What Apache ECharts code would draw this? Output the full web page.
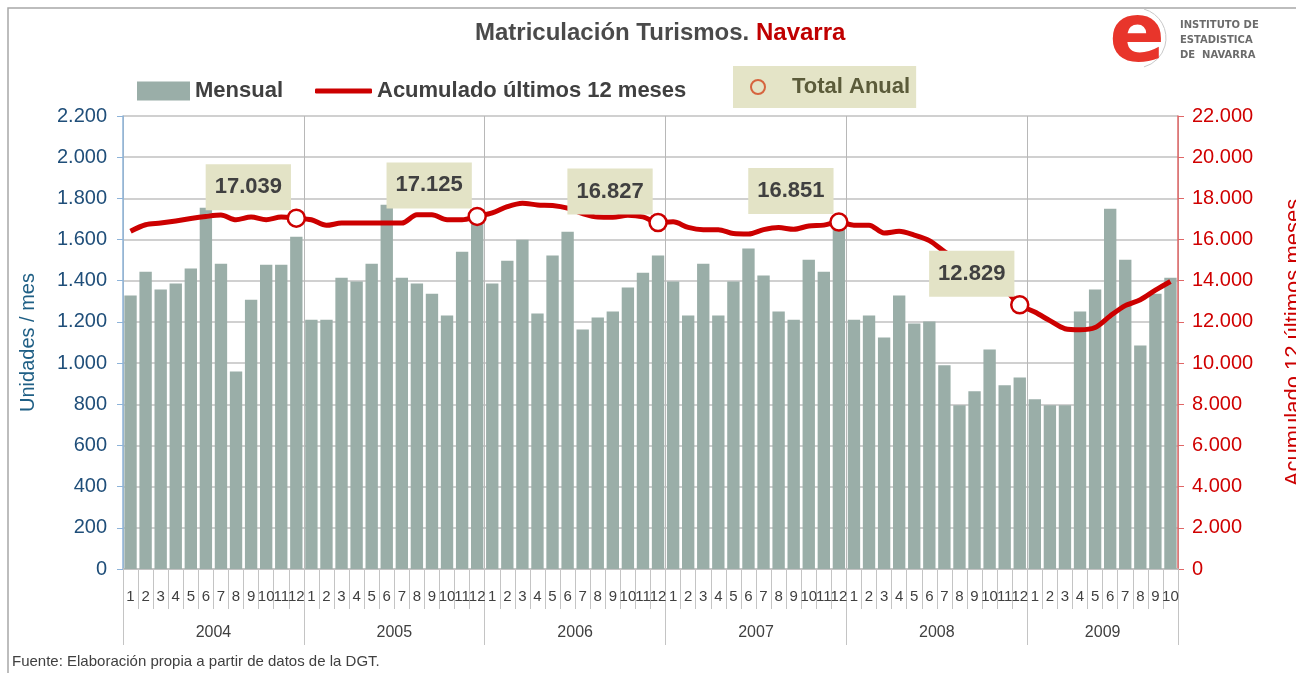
<!DOCTYPE html>
<html>
<head>
<meta charset="utf-8">
<title>Matriculación Turismos. Navarra</title>
<script src="https://cdn.jsdelivr.net/npm/echarts@6/dist/echarts.min.js"></script>
<style>
  html, body { margin: 0; padding: 0; background: #fff; }
  #chart { width: 1296px; height: 673px; }
</style>
</head>
<body>
<div id="chart"></div>
<script>
// eje X: años y meses
const years = ['2004', '2005', '2006', '2007', '2008', '2009'];
const monthsPerYear = [12, 12, 12, 12, 12, 10];
const monthNames = ['1', '2', '3', '4', '5', '6', '7', '8', '9', '10', '11', '12'];

// matriculaciones mensuales (unidades / mes)
const mensual2004 = [1328, 1444, 1357, 1386, 1459, 1754, 1483, 959, 1308, 1478, 1478, 1614];
const mensual2005 = [1211, 1211, 1415, 1396, 1483, 1769, 1415, 1386, 1337, 1231, 1541, 1730];
const mensual2006 = [1386, 1497, 1599, 1241, 1522, 1638, 1163, 1221, 1250, 1367, 1439, 1522];
const mensual2007 = [1396, 1231, 1483, 1231, 1396, 1556, 1425, 1250, 1211, 1502, 1444, 1700];
const mensual2008 = [1211, 1231, 1124, 1328, 1192, 1202, 989, 795, 863, 1066, 892, 930];
const mensual2009 = [824, 795, 795, 1250, 1357, 1750, 1502, 1085, 1337, 1415];

// acumulado últimos 12 meses
const acum2004 = [16400, 16720, 16800, 16900, 17020, 17120, 17190, 16960, 17090, 16960, 17090, 17039];
const acum2005 = [16960, 16690, 16800, 16800, 16800, 16800, 16800, 17200, 17200, 16960, 16960, 17125];
const acum2006 = [17290, 17600, 17768, 17680, 17655, 17525, 17260, 17090, 17080, 17180, 17100, 16827];
const acum2007 = [16860, 16590, 16480, 16480, 16290, 16270, 16480, 16580, 16500, 16660, 16700, 16851];
const acum2008 = [16700, 16700, 16315, 16400, 16220, 15950, 15420, 14950, 14600, 14150, 13600, 12829];
const acum2009 = [12480, 12060, 11670, 11620, 11730, 12290, 12790, 13080, 13540, 13960];

// total anual (diciembre de cada año)
const totalAnual = [17039, 17125, 16827, 16851, 12829];

const categories = years.flatMap((y, i) => monthNames.slice(0, monthsPerYear[i]));
const mensual = [].concat(mensual2004, mensual2005, mensual2006, mensual2007, mensual2008, mensual2009);
const acumulado = [].concat(acum2004, acum2005, acum2006, acum2007, acum2008, acum2009);

// posiciones de cambio de año en el eje y puntos del total anual
const yearBounds = [0];
monthsPerYear.forEach(n => yearBounds.push(yearBounds[yearBounds.length - 1] + n));
const yearMids = years.map((y, i) => (yearBounds[i] + yearBounds[i + 1]) / 2);
const totalData = categories.map(() => '-');
totalAnual.forEach((v, i) => { totalData[yearBounds[i + 1] - 1] = v; });

function fmt(n) {
  return String(n).replace(/\B(?=(\d{3})+(?!\d))/g, '.');
}

const FONT = '"Liberation Sans", Arial, sans-serif';
const legendText = { fontSize: 22, fontWeight: 'bold', color: '#404040', fontFamily: FONT };

const chart = echarts.init(document.getElementById('chart'));
const option = {
  animation: false,
  textStyle: { fontFamily: FONT },
  title: {
    left: 470,
    top: 16,
    text: '{a|Matriculación Turismos. }{b|Navarra}',
    textStyle: {
      rich: {
        a: { fontSize: 24, fontWeight: 'bold', color: '#4a4a4a', fontFamily: FONT },
        b: { fontSize: 24, fontWeight: 'bold', color: '#c00000', fontFamily: FONT }
      }
    }
  },
  legend: [
    {
      left: 137,
      top: 80,
      padding: 0,
      itemWidth: 53,
      itemHeight: 19,
      data: [{ name: 'Mensual', icon: 'rect' }],
      textStyle: legendText
    },
    {
      left: 315,
      top: 80,
      padding: 0,
      itemWidth: 57,
      itemHeight: 5,
      data: [{ name: 'Acumulado últimos 12 meses', icon: 'roundRect', itemStyle: { color: '#cc0000' } }],
      textStyle: legendText
    },
    {
      left: 733,
      top: 66,
      backgroundColor: '#e4e4c7',
      padding: [10, 6, 10, 17],
      itemWidth: 14,
      itemHeight: 14,
      data: [{
        name: 'Total Anual',
        icon: 'circle',
        itemStyle: { color: 'transparent', borderColor: '#d6643e', borderWidth: 2 }
      }],
      textStyle: { fontSize: 22, fontWeight: 'bold', color: '#5b5b3a', fontFamily: FONT, padding: [0, 0, 0, 22] }
    }
  ],
  grid: { left: 123, right: 118, top: 116, bottom: 104, outerBoundsMode: 'none' },
  xAxis: [
    {
      type: 'category',
      data: categories,
      boundaryGap: true,
      axisLine: { show: true, lineStyle: { color: '#bfbfbf', width: 1.5 } },
      axisTick: { show: true, interval: 0, length: 40, lineStyle: { color: '#c4c4c4' } },
      axisLabel: { interval: 0, fontSize: 15, color: '#404040', margin: 20, fontFamily: FONT },
      splitLine: { show: false }
    },
    {
      type: 'value',
      position: 'bottom',
      min: 0,
      max: categories.length,
      interval: 12,
      axisLine: { show: false },
      axisTick: { show: true, customValues: yearBounds, length: 76, lineStyle: { color: '#c4c4c4' } },
      axisLabel: {
        customValues: yearMids,
        fontSize: 16,
        color: '#404040',
        margin: 56,
        fontFamily: FONT,
        formatter: v => years[yearMids.indexOf(v)]
      },
      splitLine: { show: true, lineStyle: { color: '#b8b8b8', width: 1 } }
    }
  ],
  yAxis: [
    {
      type: 'value',
      min: 0,
      max: 2200,
      interval: 200,
      name: 'Unidades / mes',
      nameLocation: 'middle',
      nameGap: 85,
      nameRotate: 90,
      nameTextStyle: { fontSize: 20, color: '#1f5f85', fontFamily: FONT },
      axisLine: { show: true, lineStyle: { color: '#8db3d9', width: 1.5 } },
      axisTick: { show: true, length: 6, lineStyle: { color: '#8db3d9' } },
      axisLabel: { fontSize: 20, color: '#1f4e79', margin: 16, formatter: fmt, fontFamily: FONT },
      splitLine: { show: true, lineStyle: { color: '#c0c0c0', width: 1.5 } }
    },
    {
      type: 'value',
      position: 'right',
      min: 0,
      max: 22000,
      interval: 2000,
      name: 'Acumulado 12 últimos meses',
      nameLocation: 'middle',
      nameGap: 105,
      nameRotate: 90,
      nameTextStyle: { fontSize: 22, color: '#cc0000', fontFamily: FONT },
      axisLine: { show: true, lineStyle: { color: '#e06666', width: 1.5 } },
      axisTick: { show: true, length: 6, lineStyle: { color: '#e06666' } },
      axisLabel: { fontSize: 20, color: '#d00000', margin: 14, formatter: fmt, fontFamily: FONT },
      splitLine: { show: false }
    }
  ],
  series: [
    {
      name: 'Mensual',
      type: 'bar',
      xAxisIndex: 0,
      yAxisIndex: 0,
      data: mensual,
      barCategoryGap: '18%',
      itemStyle: { color: '#9aaea8' }
    },
    {
      name: 'Acumulado últimos 12 meses',
      type: 'line',
      xAxisIndex: 0,
      yAxisIndex: 1,
      data: acumulado,
      symbol: 'none',
      smooth: 0.3,
      lineStyle: { color: '#cc0000', width: 5 },
      itemStyle: { color: '#cc0000' },
      z: 3
    },
    {
      name: 'Total Anual',
      type: 'scatter',
      xAxisIndex: 0,
      yAxisIndex: 1,
      data: totalData,
      symbolSize: 17,
      itemStyle: { color: '#ffffff', borderColor: '#cc0000', borderWidth: 2.5, opacity: 1 },
      z: 4,
      label: {
        show: true,
        position: 'inside',
        offset: [-48, -31],
        formatter: p => fmt(p.value),
        fontSize: 22,
        fontWeight: 'bold',
        color: '#404040',
        opacity: 1,
        fontFamily: FONT,
        backgroundColor: '#e3e3c6',
        padding: [12, 9, 12, 9]
      }
    }
  ],
  graphic: [
    {
      type: 'rect',
      silent: true,
      shape: { x: 8, y: 8, width: 1320, height: 700 },
      style: { fill: 'none', stroke: '#a8a8a8', lineWidth: 1.5 }
    },
    {
      type: 'arc',
      silent: true,
      shape: { cx: 1136, cy: 38, r: 30, startAngle: -1.3, endAngle: 1.3 },
      style: { stroke: '#c8c8c8', lineWidth: 1, fill: 'none' }
    },
    {
      type: 'text',
      silent: true,
      style: {
        x: 1137, y: 40, text: 'e', fill: '#e8352b',
        font: 'bold 82px "DejaVu Sans", sans-serif',
        textAlign: 'center', textVerticalAlign: 'middle'
      }
    },
    {
      type: 'text',
      silent: true,
      style: {
        x: 1180, y: 18, text: 'INSTITUTO DE\nESTADISTICA\nDE  NAVARRA', fill: '#6b6b6b',
        font: 'bold 10px "DejaVu Sans", sans-serif', lineHeight: 15
      }
    },
    {
      type: 'text',
      silent: true,
      style: {
        x: 12, y: 654, text: 'Fuente: Elaboración propia a partir de datos de la DGT.',
        fill: '#404040', font: '15px "Liberation Sans", Arial, sans-serif'
      }
    }
  ]
};
chart.setOption(option);
</script>
</body>
</html>
